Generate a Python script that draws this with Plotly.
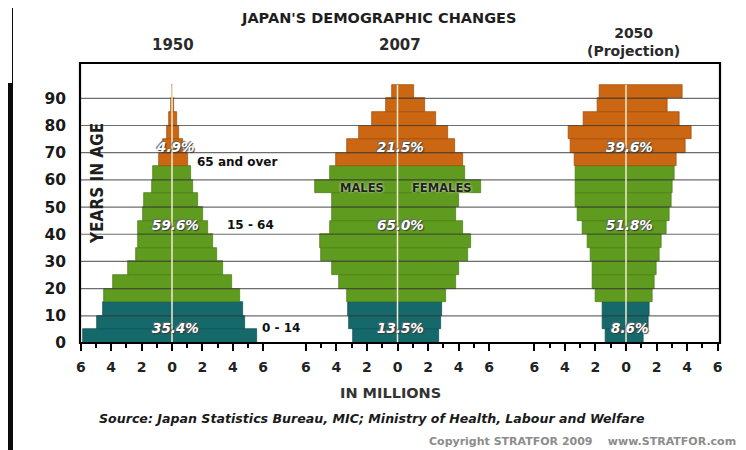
import plotly.graph_objects as go

# ---------------- data ----------------
age_start = [0, 5, 10, 15, 20, 25, 30, 35, 40, 45, 50, 55, 60, 65, 70, 75, 80, 85, 90]
age_group = ["0-4", "5-9", "10-14", "15-19", "20-24", "25-29", "30-34", "35-39", "40-44",
             "45-49", "50-54", "55-59", "60-64", "65-69", "70-74", "75-79", "80-84", "85-89", "90+"]
band = ["young"] * 3 + ["working"] * 10 + ["old"] * 6

males_1950 = [5.88, 4.95, 4.56, 4.45, 3.86, 2.87, 2.37, 2.21, 2.21, 1.88, 1.84, 1.34, 1.27,
              0.83, 0.57, 0.31, 0.20, 0.06, 0.02]
females_1950 = [5.57, 4.80, 4.65, 4.48, 3.93, 3.38, 2.94, 2.68, 2.39, 2.06, 1.73, 1.41, 1.25,
                1.03, 0.75, 0.48, 0.31, 0.16, 0.03]

males_2007 = [2.89, 3.18, 3.22, 3.29, 3.84, 4.28, 4.98, 5.04, 4.39, 4.28, 4.28, 5.40, 4.39,
              4.01, 3.29, 2.52, 1.64, 0.72, 0.37]
females_2007 = [2.74, 2.85, 2.92, 3.18, 3.84, 4.01, 4.61, 4.82, 4.28, 3.84, 4.01, 5.48, 4.39,
                4.28, 3.73, 3.29, 2.52, 1.82, 1.10]

males_2050 = [1.35, 1.51, 1.57, 2.00, 2.22, 2.22, 2.32, 2.54, 2.86, 3.18, 3.29, 3.29, 3.29,
              3.40, 3.61, 3.75, 2.75, 1.85, 1.74]
females_2050 = [1.16, 1.44, 1.51, 1.76, 1.87, 1.98, 2.19, 2.30, 2.62, 2.84, 2.95, 3.05, 3.16,
                3.27, 3.91, 4.26, 3.48, 2.73, 3.70]

years = ["1950", "2007", "2050<br>(Projection)"]
pct_1950 = ["35.4%", "59.6%", "4.9%"]
pct_2007 = ["13.5%", "65.0%", "21.5%"]
pct_2050 = ["8.6%", "51.8%", "39.6%"]
pct_label_age = [5.5, 43.4, 72.1]

group_labels = ["0 - 14", "15 - 64", "65 and over"]

x_tickvals = [-6, -4, -2, 0, 2, 4, 6]
x_ticktext = ["6", "4", "2", "0", "2", "4", "6"]
y_tickvals = [0, 10, 20, 30, 40, 50, 60, 70, 80, 90]

# ---------------- style ----------------
band_color = {"young": "#15696b", "working": "#5f9b1f", "old": "#cb6612"}
band_edge = {"young": "#0c4e50", "working": "#467a12", "old": "#9e4a08"}
FONT = "DejaVu Sans"

OFF = 8                      # page body margin of the browser
W, H = 746 - OFF, 450 - OFF  # figure size so that it fits the window
L, R, T, B = 80, 720, 63, 343  # plot frame in window pixels


def px(x):
    return (x - L) / (R - L)


def py(y):
    return (B - y) / (B - T)


fig = go.Figure()

panels = [
    ("x", males_1950, females_1950, pct_1950),
    ("x2", males_2007, females_2007, pct_2007),
    ("x3", males_2050, females_2050, pct_2050),
]
colors = [band_color[b] for b in band]
edges = [band_edge[b] for b in band]
mids = [a + 2.5 for a in age_start]

for xa, males, females, _ in panels:
    fig.add_trace(go.Bar(
        y=mids, x=[-m for m in males], orientation="h", width=5,
        marker=dict(color=colors, line=dict(color=edges, width=0.7)),
        xaxis=xa, yaxis="y", showlegend=False, hoverinfo="skip"))
    fig.add_trace(go.Bar(
        y=mids, x=females, orientation="h", width=5,
        marker=dict(color=colors, line=dict(color=edges, width=0.7)),
        xaxis=xa, yaxis="y", showlegend=False, hoverinfo="skip"))

shapes = []
# white page panel on black background
shapes.append(dict(type="rect", xref="paper", yref="paper", layer="below",
                   x0=px(13), x1=px(741), y0=py(452), y1=py(OFF),
                   fillcolor="white", line=dict(width=0)))
shapes.append(dict(type="rect", xref="paper", yref="paper", layer="below",
                   x0=px(OFF), x1=px(12), y0=py(83), y1=py(OFF),
                   fillcolor="white", line=dict(width=0)))
# horizontal grid lines drawn over bars
for v in y_tickvals[1:]:
    shapes.append(dict(type="line", xref="paper", yref="y", layer="above",
                       x0=0, x1=1, y0=v, y1=v,
                       line=dict(color="rgba(60,60,60,0.75)", width=1.2)))
# centre lines of each pyramid
top_age = age_start[-1] + 5
for xa, *_ in panels:
    shapes.append(dict(type="line", xref=xa, yref="y", layer="above",
                       x0=0, x1=0, y0=0, y1=top_age,
                       line=dict(color="#f4eed2", width=1.5)))
# frame
shapes.append(dict(type="rect", xref="paper", yref="paper", layer="above",
                   x0=0, x1=1, y0=0, y1=1, line=dict(color="black", width=2.2)))

ann = []


def text(x, y, s, size, color="#1e1e1e", weight=700, style="normal", xanchor="center",
         family=FONT, angle=0, shadow="none", xref="paper", yref="paper"):
    ann.append(dict(x=x, y=y, xref=xref, yref=yref, text=s, showarrow=False,
                    xanchor=xanchor, yanchor="middle", textangle=angle,
                    font=dict(family=family, size=size, color=color, weight=weight,
                              style=style, shadow=shadow)))


text(px(378), py(18), "JAPAN'S DEMOGRAPHIC CHANGES", 14.5)
text(px(173), py(45), years[0], 15, "#2a2a2a")
text(px(400), py(45), years[1], 15, "#2a2a2a")
text(px(633), py(42), years[2], 14, "#2a2a2a")
text(px(97), py(184), "YEARS IN AGE", 17, "#1e1e1e", family="DejaVu Sans Condensed", angle=-90)

for xa, _, _, pcts in panels:
    for lab, age in zip(pcts, pct_label_age):
        text(0.2, age, lab, 13.5, "white", style="italic",
             shadow="1px 1px 1px #3a3a3a, -1px -1px 1px #6a6a6a", xref=xa, yref="y")

text(px(260), py(328), group_labels[0], 12, "#111", xanchor="left")
text(px(225), py(225), group_labels[1], 12, "#111", xanchor="left")
text(px(195), py(162), group_labels[2], 12, "#111", xanchor="left")

text(px(362), py(188), "MALES", 11.5, "#222", shadow="0px 0px 3px #f2f7dc")
text(px(442), py(188), "FEMALES", 11.5, "#222", shadow="0px 0px 3px #f2f7dc")

text(px(390), py(393), "IN MILLIONS", 14.5, "#333")
text(px(372), py(418), "Source: Japan Statistics Bureau, MIC; Ministry of Health, Labour and Welfare",
     12.6, "#1a1a1a", style="italic")
text(px(738), py(441), "Copyright STRATFOR 2009\u00a0\u00a0\u00a0\u00a0www.STRATFOR.com",
     11, "#8c8c8c", xanchor="right")

xaxis_common = dict(
    range=[-6.05, 6.05], tickmode="array", tickvals=x_tickvals, ticktext=x_ticktext,
    ticks="outside", ticklen=7, tickwidth=2, tickcolor="black",
    minor=dict(dtick=1, tick0=0, ticks="outside", ticklen=3.5, tickwidth=2, tickcolor="black"),
    showgrid=False, zeroline=False, showline=False, anchor="y",
    tickfont=dict(family=FONT, size=14, color="#222", weight=700),
    ticklabelstandoff=4, fixedrange=True,
)

fig.update_layout(
    width=W, height=H, autosize=False,
    margin=dict(l=L - OFF, r=(W + OFF) - R, t=T - OFF, b=(H + OFF) - B, pad=0),
    paper_bgcolor="#0b0b0b", plot_bgcolor="white",
    barmode="relative", bargap=0,
    shapes=shapes, annotations=ann,
    xaxis=dict(domain=[0, px(264)], **xaxis_common),
    xaxis2=dict(domain=[px(305), px(490)], **xaxis_common),
    xaxis3=dict(domain=[px(533.5), px(718.5)], **xaxis_common),
    yaxis=dict(range=[0, 103], tickmode="array", tickvals=y_tickvals, showgrid=False,
               zeroline=False, showline=False, ticks="", ticklabelstandoff=13,
               tickfont=dict(family=FONT, size=15.5, color="#1a1a1a", weight=700),
               fixedrange=True),
    showlegend=False,
)

fig.write_html("out.html")
